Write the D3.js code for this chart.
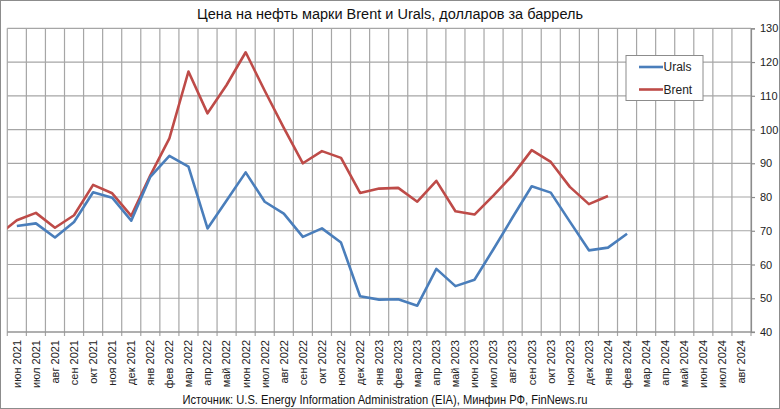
<!DOCTYPE html>
<html><head><meta charset="utf-8">
<script src="https://cdn.jsdelivr.net/npm/d3@7"></script>
<style>body{margin:0;background:#fff}svg{display:block}</style>
</head><body>
<svg id="c" width="780" height="409"></svg>
<script>
const categories = ["июн 2021","июл 2021","авг 2021","сен 2021","окт 2021","ноя 2021","дек 2021",
 "янв 2022","фев 2022","мар 2022","апр 2022","май 2022","июн 2022","июл 2022","авг 2022","сен 2022","окт 2022","ноя 2022","дек 2022",
 "янв 2023","фев 2023","мар 2023","апр 2023","май 2023","июн 2023","июл 2023","авг 2023","сен 2023","окт 2023","ноя 2023","дек 2023",
 "янв 2024","фев 2024","мар 2024","апр 2024","май 2024","июн 2024","июл 2024","авг 2024"];
const urals = [71.4,72.2,68.0,72.6,81.4,79.8,73.0,86.0,92.2,89.0,70.7,79.0,87.3,78.6,75.1,68.2,70.7,66.5,50.6,49.6,49.7,47.8,58.7,53.6,55.5,64.6,74.0,83.2,81.3,72.7,64.2,65.0,69.1];
const brentPrevLabel = "май 2021";
const brentPrev = 68.6;
const brent = [73.1,75.3,70.9,74.6,83.6,81.1,74.4,86.4,97.4,117.2,104.8,113.2,122.9,111.5,100.5,90.0,93.6,91.6,81.2,82.5,82.7,78.6,84.8,75.8,74.8,80.5,86.5,93.9,90.4,83.0,77.9,80.3];
const yTicks = [40,50,60,70,80,90,100,110,120,130];
const title = "Цена на нефть марки Brent и Urals, долларов за баррель";
const source = "Источник: U.S. Energy Information Administration (EIA), Минфин РФ, FinNews.ru";

const svg = d3.select("#c");
const W = 780, H = 409;
const L = 7.3, R = 751, T = 28.3, B = 332;
const font = "'Liberation Sans', Arial, sans-serif";

svg.append("rect").attr("x",0.5).attr("y",0.5).attr("width",W-1).attr("height",H-1)
  .attr("fill","#fff").attr("stroke","#8c8c8c");

const xi = d3.scaleLinear().domain([0, categories.length]).range([L, R]);
const xb = d3.scaleBand().domain(categories).range([L, R]).padding(0);
const y = d3.scaleLinear().domain([40,130]).range([B, T]);

// horizontal grid
svg.append("g").selectAll("line").data(yTicks).join("line")
  .attr("x1",L).attr("x2",R).attr("y1",d=>y(d)).attr("y2",d=>y(d))
  .attr("stroke","#a6a6a6").attr("stroke-width",1.2);
// vertical grid at category boundaries (with tick extension below)
svg.append("g").selectAll("line").data(d3.range(0, categories.length+1)).join("line")
  .attr("x1",d=>xi(d)).attr("x2",d=>xi(d)).attr("y1",T).attr("y2",B+4)
  .attr("stroke","#a6a6a6").attr("stroke-width",1.2);
// bottom axis line
svg.append("line").attr("x1",L).attr("x2",R+4).attr("y1",B).attr("y2",B).attr("stroke","#8c8c8c").attr("stroke-width",1.2);
// right axis
const ya = svg.append("g").attr("transform",`translate(${R},0)`)
  .call(d3.axisRight(y).tickValues(yTicks).tickSize(4).tickPadding(5));
ya.select(".domain").attr("stroke","#8c8c8c").attr("stroke-width",1.2);
ya.selectAll(".tick line").attr("stroke","#8c8c8c").attr("stroke-width",1.2);
ya.selectAll("text").attr("font-family",font).attr("font-size",11).attr("fill","#222");

// x labels
const xa = svg.append("g").attr("transform",`translate(0,${B})`)
  .call(d3.axisBottom(xb).tickSize(0).tickPadding(0));
xa.select(".domain").remove();
xa.selectAll("text").attr("font-family",font).attr("font-size",11).attr("fill","#222")
  .attr("transform","rotate(-90)").attr("text-anchor","end").attr("dy","0.35em").attr("x",-8).attr("y",0);

// clip
svg.append("clipPath").attr("id","pc").append("rect").attr("x",L).attr("y",T-5).attr("width",R-L).attr("height",B-T+10);

const uData = urals.map((v,i)=>({i, v}));
const bData = [{i:-1, v:brentPrev, label:brentPrevLabel}].concat(brent.map((v,i)=>({i, v})));
const line = d3.line().x(d=>xi(d.i+0.5)).y(d=>y(d.v));
const g = svg.append("g").attr("clip-path","url(#pc)");
g.append("path").datum(bData).attr("d",line).attr("fill","none").attr("stroke","#be4b48").attr("stroke-width",2.6).attr("stroke-linejoin","round");
g.append("path").datum(uData).attr("d",line).attr("fill","none").attr("stroke","#4a7ebb").attr("stroke-width",2.6).attr("stroke-linejoin","round");

// legend
const lg = svg.append("g");
lg.append("rect").attr("x",626).attr("y",55.5).attr("width",77).attr("height",45).attr("fill","#fff").attr("stroke","#8c8c8c");
[["Urals","#4a7ebb",67],["Brent","#be4b48",89.5]].forEach(([n,c,yy])=>{
  lg.append("line").attr("x1",639).attr("x2",663).attr("y1",yy).attr("y2",yy).attr("stroke",c).attr("stroke-width",2.6);
  lg.append("text").attr("x",663.5).attr("y",yy).attr("dy","0.35em").attr("font-family",font).attr("font-size",12).attr("fill","#222").text(n);
});

svg.append("text").attr("x",390).attr("y",14).attr("dy","0.35em").attr("text-anchor","middle")
  .attr("font-family",font).attr("font-size",14).attr("fill","#111")
  .attr("textLength",386).attr("lengthAdjust","spacingAndGlyphs").text(title);
svg.append("text").attr("x",385).attr("y",400).attr("dy","0.35em").attr("text-anchor","middle")
  .attr("font-family",font).attr("font-size",12).attr("fill","#111")
  .attr("textLength",405).attr("lengthAdjust","spacingAndGlyphs").text(source);
</script>
</body></html>
